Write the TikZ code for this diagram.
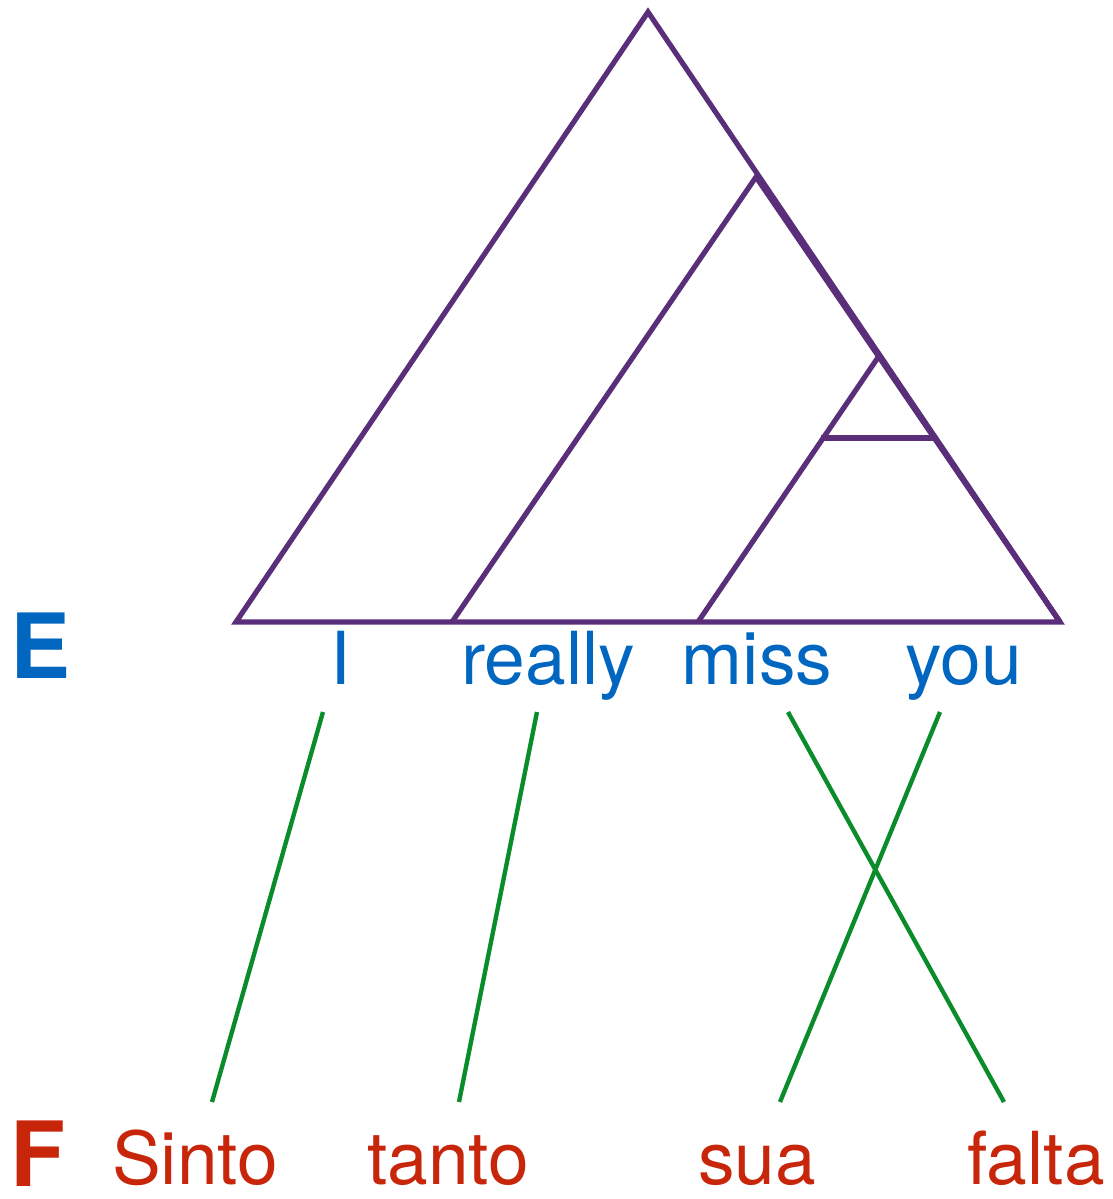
\documentclass[tikz,border=0pt]{standalone}
\usepackage{fontspec}
\setmainfont{TeX Gyre Heros}
\usepackage{tikz}
\usetikzlibrary{positioning}
\definecolor{treepurple}{RGB}{91,46,122}
\definecolor{engblue}{RGB}{0,102,192}
\definecolor{frred}{RGB}{200,38,10}
\definecolor{linkgreen}{RGB}{10,140,42}

\begin{document}
\begin{tikzpicture}[
      x=0.025cm, y=-0.025cm,
      tree/.style={draw=treepurple, line width=3.7pt, line join=miter},
      link/.style={draw=linkgreen, line width=3.1pt},
      eword/.style={anchor=base, inner sep=0pt, text=engblue,
                    font=\fontsize{52}{60}\selectfont},
      fword/.style={anchor=base, inner sep=0pt, text=frred,
                    font=\fontsize{52}{60}\selectfont},
      side/.style={anchor=base west, inner sep=0pt,
                   font=\fontsize{64}{70}\selectfont\bfseries}
    ]
    \useasboundingbox (0,0) rectangle (1113,1199);
    % tree over the English sentence
    \coordinate (top) at (648,12);
    \coordinate (bl) at (236,622);
    \coordinate (br) at (1060,622);
    \coordinate (s1) at (756,177);
    \coordinate (s2) at (879,356);
    \draw[tree] (bl) -- (top) -- (br) -- cycle;
    \draw[tree] (452,622) -- (s1) -- (br);
    \draw[tree] (698,622) -- (s2) -- (br);
    \draw[tree] (821,438) -- (935,438);
    % sentences
    \node[side, text=engblue] (E) at (10,678) {E};
    \node[eword] (I) at (341,684) {I};
    \node[eword] (really) at (548,684) {really};
    \node[eword] (miss) at (757,684) {miss};
    \node[eword] (you) at (964,684) {you};
    \node[side, text=frred] (F) at (10,1186) {F};
    \node[fword] (Sinto) at (195,1184) {Sinto};
    \node[fword] (tanto) at (448,1184) {tanto};
    \node[fword] (sua) at (757,1184) {sua};
    \node[fword] (falta) at (1036,1184) {falta};
    % word alignment
    \coordinate (I-e) at (323,712);
    \coordinate (really-e) at (537,712);
    \coordinate (miss-e) at (788,712);
    \coordinate (you-e) at (940,712);
    \coordinate (Sinto-f) at (212,1102);
    \coordinate (tanto-f) at (459,1102);
    \coordinate (sua-f) at (780,1102);
    \coordinate (falta-f) at (1004,1102);
    \draw[link] (I-e) -- (Sinto-f);
    \draw[link] (really-e) -- (tanto-f);
    \draw[link] (miss-e) -- (falta-f);
    \draw[link] (you-e) -- (sua-f);
  \end{tikzpicture}
\end{document}
